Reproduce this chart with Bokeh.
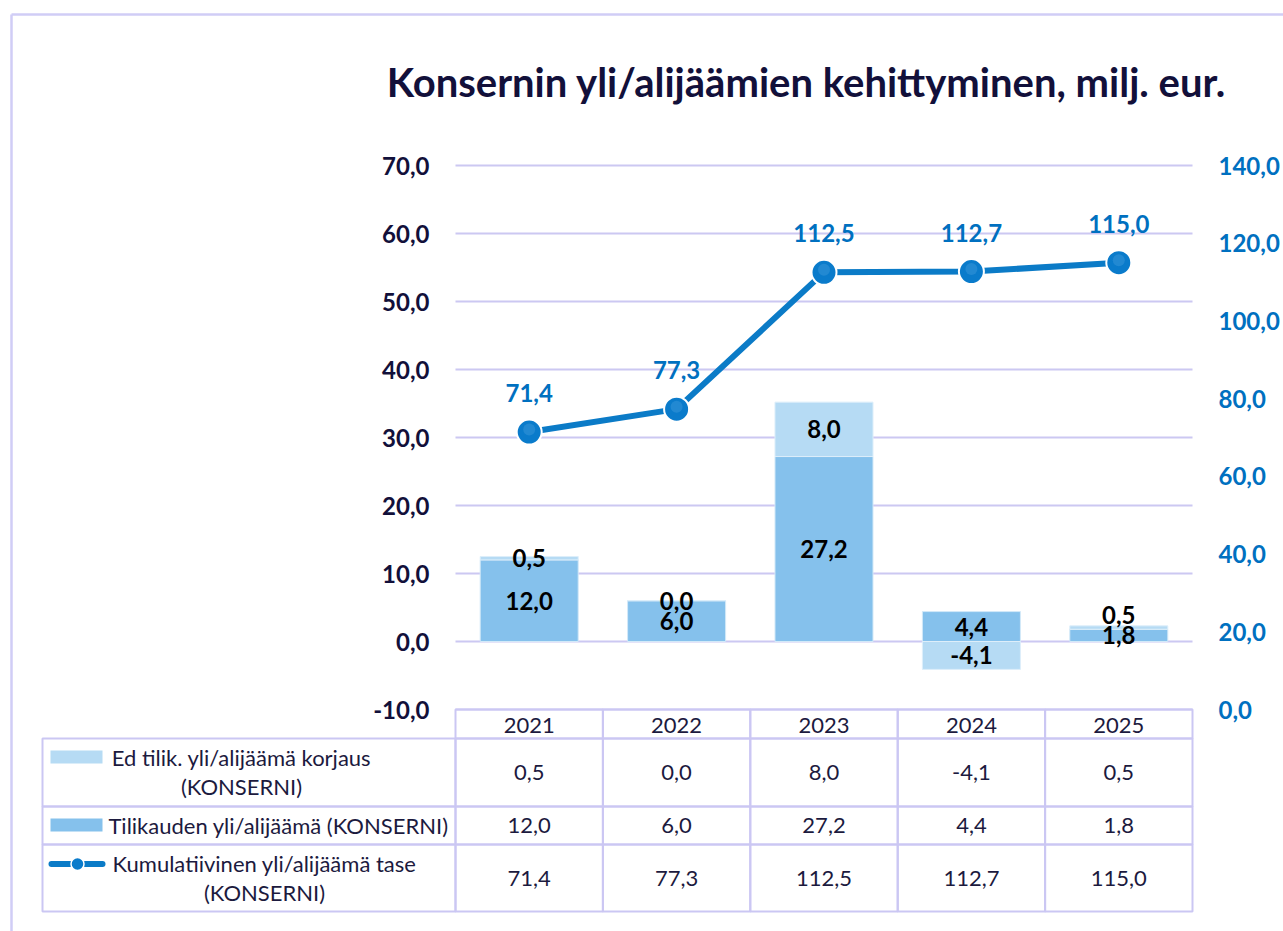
from bokeh.plotting import figure
from bokeh.models import Range1d, LinearAxis, FixedTicker, CustomJSTickFormatter
from bokeh.core.properties import value
from bokeh.embed import file_html
from bokeh.resources import INLINE

# ---------------- data ----------------
years = ["2021", "2022", "2023", "2024", "2025"]
correction = [0.5, 0.0, 8.0, -4.1, 0.5]         # Ed tilik. yli/alijäämä korjaus (KONSERNI)
period = [12.0, 6.0, 27.2, 4.4, 1.8]            # Tilikauden yli/alijäämä (KONSERNI)
cumulative = [71.4, 77.3, 112.5, 112.7, 115.0]  # Kumulatiivinen yli/alijäämä tase (KONSERNI)
left_ticks = [-10, 0, 10, 20, 30, 40, 50, 60, 70]
right_ticks = [0, 20, 40, 60, 80, 100, 120, 140]
title_text = "Konsernin yli/alijäämien kehittyminen, milj. eur."
name_corr = ["Ed tilik. yli/alijäämä korjaus", "(KONSERNI)"]
name_period = ["Tilikauden yli/alijäämä (KONSERNI)"]
name_cum = ["Kumulatiivinen yli/alijäämä tase", "(KONSERNI)"]

# ---------------- styles ----------------
FONT = "Lato"
C_PERIOD = "#85C1EC"
C_CORR = "#B6DBF4"
C_LINE = "#0B7BC7"
C_MARK = "#0A7BCB"
C_LBL_BLUE = "#0070C0"
C_NAVY = "#12103A"
C_TXT = "#1C1A3E"
C_GRID = "#CCC8F2"
C_TABLE = "#CBC7F3"
C_BORDER = "#D0CDF6"
BOLD_SIZE = "24px"
TABLE_SIZE = "22px"
TITLE_SIZE = "40px"

W, H = 1283, 931
PX0, PX1 = 455, 1192       # plot area left/right (px)
PY_TOP, PY_BOT = 165, 709  # pixel rows of the top/bottom left ticks
L_MIN, L_MAX = left_ticks[0], left_ticks[-1]
R_MIN, R_MAX = right_ticks[0], right_ticks[-1]
ncat = len(years)
cw = (PX1 - PX0) / ncat
px_y = (PY_BOT - PY_TOP) / (L_MAX - L_MIN)
px_r = (PY_BOT - PY_TOP) / (R_MAX - R_MIN)


def xs(px):
    return (px - PX0) / cw


def ys(py):
    return L_MAX - (py - PY_TOP) / px_y


def rs(py):
    return R_MAX - (py - PY_TOP) / px_r


def fmt(v):
    return f"{v:.1f}".replace(".", ",")


p = figure(width=W, height=H, x_range=Range1d(xs(0), xs(W)),
           y_range=Range1d(ys(H), ys(0)), output_backend="svg",
           toolbar_location=None, x_axis_location=None, y_axis_location=None,
           min_border=0)
p.extra_y_ranges = {"cum": Range1d(rs(H), rs(0))}
p.outline_line_color = None
p.background_fill_color = "white"
p.border_fill_color = "white"
p.grid.visible = False

formatter = CustomJSTickFormatter(code="return tick.toFixed(1).replace('.', ',')")


def style_axis(ax, color):
    ax.axis_line_color = None
    ax.major_tick_line_color = None
    ax.minor_tick_line_color = None
    ax.major_tick_out = 0
    ax.major_tick_in = 0
    ax.major_label_text_font = FONT
    ax.major_label_text_font_style = "bold"
    ax.major_label_text_font_size = BOLD_SIZE
    ax.major_label_text_color = color
    ax.major_label_standoff = 26


ly = LinearAxis(ticker=FixedTicker(ticks=left_ticks), formatter=formatter, fixed_location=0)
style_axis(ly, C_NAVY)
p.add_layout(ly, "left")
ry = LinearAxis(y_range_name="cum", ticker=FixedTicker(ticks=right_ticks),
                formatter=formatter, fixed_location=ncat)
style_axis(ry, C_LBL_BLUE)
p.add_layout(ry, "right")

xc = [i + 0.5 for i in range(ncat)]   # category centres

# ---------------- gridlines ----------------
p.segment(x0=[0] * len(left_ticks), x1=[ncat] * len(left_ticks), y0=left_ticks,
          y1=left_ticks, line_color=C_GRID, line_width=2)

# ---------------- stacked bars ----------------
p_bottom = [0.0] * ncat
p_top = period
c_bottom = [pv if cv >= 0 else 0.0 for pv, cv in zip(period, correction)]
c_top = [pv + cv if cv >= 0 else cv for pv, cv in zip(period, correction)]

bar_w = 0.665
p.vbar(x=xc, bottom=p_bottom, top=p_top, width=bar_w, fill_color=C_PERIOD,
       line_color="#D3E9F8", line_width=1)
p.vbar(x=xc, bottom=c_bottom, top=c_top, width=bar_w, fill_color=C_CORR,
       line_color="#DDEEFA", line_width=1)

# bar labels (segment centres, pushed apart if overlapping)
min_gap = 20.0 / px_y
lab_x, lab_y, lab_t = [], [], []
for i in range(ncat):
    cp = (p_bottom[i] + p_top[i]) / 2
    cc = (c_bottom[i] + c_top[i]) / 2
    if correction[i] >= 0 and cc - cp < min_gap:
        cc = cp + min_gap
    lab_x += [xc[i], xc[i]]
    lab_y += [cp, cc]
    lab_t += [fmt(period[i]), fmt(correction[i])]
p.text(x=lab_x, y=lab_y, text=lab_t, text_font=value(FONT), text_font_style="bold",
       text_font_size=BOLD_SIZE, text_color="black", text_align="center",
       text_baseline="middle")

# ---------------- cumulative line ----------------
p.line(x=xc, y=cumulative, y_range_name="cum", line_color=C_LINE, line_width=6)
p.scatter(x=xc, y=cumulative, y_range_name="cum", size=25, marker="circle",
          fill_color=C_MARK, line_color="white", line_width=2)
p.scatter(x=xc, y=[v + 2.5 / px_r for v in cumulative], y_range_name="cum", size=12,
          marker="circle", fill_color="#4FA3E0", fill_alpha=0.35, line_color=None)
p.text(x=xc, y=[v + 39 / px_r for v in cumulative], y_range_name="cum",
       text=[fmt(v) for v in cumulative], text_font=value(FONT), text_font_style="bold",
       text_font_size=BOLD_SIZE, text_color=C_LBL_BLUE, text_align="center",
       text_baseline="middle")

# ---------------- title ----------------
p.text(x=[xs(806)], y=[ys(81)], text=[title_text], text_font=value(FONT),
       text_font_style="bold", text_font_size=TITLE_SIZE, text_color=C_NAVY,
       text_align="center", text_baseline="middle")

# ---------------- outer border ----------------
p.segment(x0=[xs(11), xs(11)], y0=[ys(14), ys(14)], x1=[xs(11), xs(W + 5)],
          y1=[ys(H + 5), ys(14)], line_color=C_BORDER, line_width=2.5)

# ---------------- data table ----------------
row_px = [709, 738, 806, 844, 911]   # header top, row1 top, row2 top, row3 top, bottom
leg_left = xs(42)
ql, qr, qt, qb = [], [], [], []
for i in range(ncat):
    ql.append(i); qr.append(i + 1); qt.append(ys(row_px[0])); qb.append(ys(row_px[1]))
for r in range(3):
    t, b = ys(row_px[r + 1]), ys(row_px[r + 2])
    ql.append(leg_left); qr.append(0); qt.append(t); qb.append(b)
    for i in range(ncat):
        ql.append(i); qr.append(i + 1); qt.append(t); qb.append(b)
p.quad(left=ql, right=qr, top=qt, bottom=qb, fill_color=None, line_color=C_TABLE,
       line_width=2)

tx, ty, tt = [], [], []
for i in range(ncat):
    tx.append(xc[i]); ty.append(ys((row_px[0] + row_px[1]) / 2 + 1)); tt.append(years[i])
for r, vals in enumerate([correction, period, cumulative]):
    yc = ys((row_px[r + 1] + row_px[r + 2]) / 2)
    for i in range(ncat):
        tx.append(xc[i]); ty.append(yc); tt.append(fmt(vals[i]))
# legend texts
leg_lines = [(name_corr[0], 241, 757), (name_corr[1], 241, 786),
             (name_period[0], 278, 825),
             (name_cum[0], 264, 863), (name_cum[1], 264, 892)]
for t, cx, cy in leg_lines:
    tx.append(xs(cx)); ty.append(ys(cy)); tt.append(t)
p.text(x=tx, y=ty, text=tt, text_font=value(FONT), text_font_size=TABLE_SIZE,
       text_color=C_TXT, text_align="center", text_baseline="middle")

# legend keys
p.quad(left=[xs(50), xs(50)], right=[xs(102), xs(102)], top=[ys(750), ys(818)],
       bottom=[ys(763), ys(831)], fill_color=[C_CORR, C_PERIOD], line_color=None)
p.segment(x0=[xs(51)], x1=[xs(102)], y0=[ys(863.5)], y1=[ys(863.5)], line_color=C_LINE,
          line_width=6, line_cap="round")
p.scatter(x=[xs(77)], y=[ys(863.5)], size=13, marker="circle", fill_color=C_MARK,
          line_color="white", line_width=1.5)

open("out.html", "w").write(file_html(p, INLINE))
